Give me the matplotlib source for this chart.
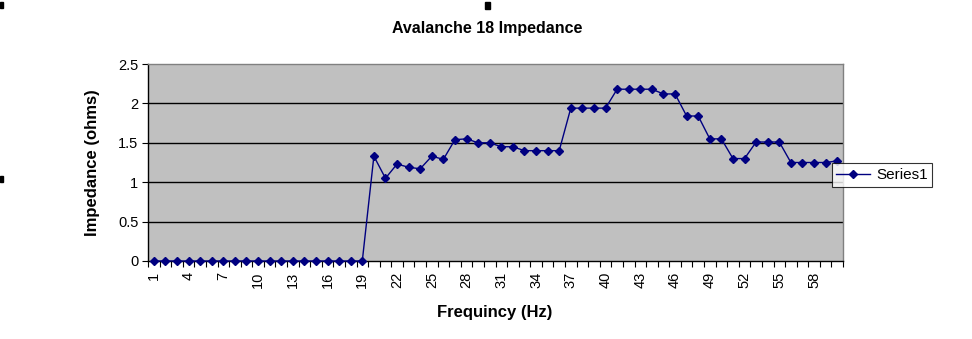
import matplotlib
matplotlib.use("Agg")
import matplotlib.pyplot as plt
from matplotlib.patches import Rectangle
from matplotlib.lines import Line2D

plt.rcParams['font.family'] = ['Liberation Sans', 'DejaVu Sans']

title = "Avalanche 18 Impedance"
x_label = "Frequincy (Hz)"
y_label = "Impedance (ohms)"
series_name = "Series1"
frequencies = list(range(1, 61))
impedance = [0.0] * 19 + [
    1.33, 1.05, 1.23, 1.19, 1.17, 1.33, 1.29, 1.54, 1.55, 1.50,
    1.50, 1.45, 1.45, 1.40, 1.40, 1.40, 1.40, 1.94, 1.94, 1.94,
    1.94, 2.18, 2.18, 2.18, 2.18, 2.12, 2.12, 1.84, 1.84, 1.55,
    1.55, 1.30, 1.30, 1.51, 1.51, 1.51, 1.25, 1.25, 1.25, 1.25,
    1.27,
]
y_ticks = [0, 0.5, 1, 1.5, 2, 2.5]
y_tick_labels = ["0", "0.5", "1", "1.5", "2", "2.5"]

W, H = 972, 339
fig = plt.figure(figsize=(W / 100, H / 100), dpi=100)
fig.patch.set_facecolor("white")

ax = fig.add_axes([148 / W, (H - 261) / H, 695 / W, 197 / H])
ax.set_facecolor("#C0C0C0")

n = len(frequencies)
pos = list(range(n))
ax.plot(pos, impedance, color="#000080", lw=1.0, marker="D", ms=4,
        mfc="#000080", mec="#000080", zorder=3, clip_on=False)

ax.set_xlim(-0.5, n - 0.5)
ax.set_ylim(0, 2.5)
ax.set_yticks(y_ticks)
ax.set_yticklabels(y_tick_labels, fontsize=10.5)
for yv in y_ticks[1:-1]:
    ax.axhline(yv, color="black", lw=1.0, zorder=1)

# x ticks: marks between categories, labels every 3rd category
ax.set_xticks([p - 0.5 for p in pos] + [n - 0.5], minor=True)
ax.set_xticks(pos[::3])
ax.set_xticklabels([str(f) for f in frequencies[::3]], rotation=90, fontsize=10.5)
ax.tick_params(axis="x", which="major", length=0, pad=8)
ax.tick_params(axis="x", which="minor", length=4, width=0.8, direction="out", color="black")
ax.tick_params(axis="y", length=4, width=0.8, direction="out", pad=3)

for s in ["left", "bottom"]:
    ax.spines[s].set_color("black")
    ax.spines[s].set_linewidth(1.0)
for s in ["top", "right"]:
    ax.spines[s].set_color("#808080")
    ax.spines[s].set_linewidth(1.0)

fig.text(487 / W, 1 - 28 / H, title, ha="center", va="center",
         fontsize=11.5, fontweight="bold")
fig.text(495 / W, 1 - 312 / H, x_label, ha="center", va="center",
         fontsize=12, fontweight="bold")
fig.text(92 / W, 1 - 163 / H, y_label, ha="center", va="center",
         fontsize=12, fontweight="bold", rotation=90)

# legend
handle = Line2D([], [], color="#000080", lw=1.0, marker="D", ms=4,
                mfc="#000080", mec="#000080")
leg = fig.legend([handle], [series_name], loc="center",
                 bbox_to_anchor=(882 / W, 1 - 175 / H), fontsize=11,
                 frameon=True, fancybox=False, edgecolor="black",
                 borderpad=0.3, handlelength=2.2, handletextpad=0.4,
                 borderaxespad=0)
leg.get_frame().set_linewidth(0.8)

# chart selection handles
fig.patches.append(Rectangle((0, 1 - 8 / H), 3 / W, 6 / H, transform=fig.transFigure,
                             color="black"))
fig.patches.append(Rectangle((485 / W, 1 - 9 / H), 5 / W, 7 / H, transform=fig.transFigure,
                             color="black"))
fig.patches.append(Rectangle((0, 1 - 182 / H), 3 / W, 6 / H, transform=fig.transFigure,
                             color="black"))

fig.savefig("out.png", dpi=100, facecolor="white")
